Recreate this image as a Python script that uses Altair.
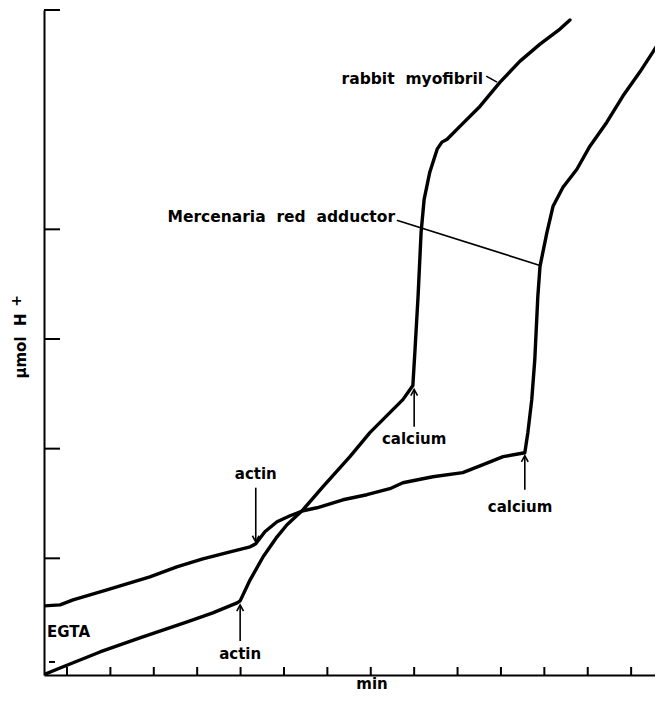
import altair as alt
import pandas as pd

# ---- data (x in min, y in tick units of µmol H+) ----
rabbit_t = [0.47, 0.84, 1.76, 2.68, 3.77, 4.36, 4.92, 4.99, 5.22, 5.52, 5.84, 6.07, 6.44,
            6.90, 7.52, 7.98, 8.44, 8.74, 8.97, 9.02, 9.09, 9.16, 9.23, 9.36, 9.53, 9.64,
            9.76, 10.06, 10.52, 10.98, 11.44, 11.90, 12.36, 12.59]
rabbit_y = [-0.06, 0.00, 0.146, 0.274, 0.42, 0.502, 0.594, 0.612, 0.804, 1.014, 1.196, 1.306,
            1.443, 1.653, 1.927, 2.146, 2.329, 2.447, 2.575, 2.904, 3.388, 3.973, 4.274, 4.521,
            4.731, 4.795, 4.822, 4.941, 5.123, 5.342, 5.534, 5.689, 5.826, 5.909]

merc_t = [0.47, 0.84, 1.14, 1.53, 1.92, 2.91, 3.53, 4.13, 4.76, 5.22, 5.35, 5.56, 5.84, 6.14,
          6.44, 6.76, 7.36, 7.91, 8.44, 8.74, 9.43, 10.12, 10.59, 11.05, 11.55, 11.62, 11.71,
          11.78, 11.85, 11.90, 12.06, 12.20, 12.43, 12.75, 13.05, 13.44, 13.81, 14.20, 14.50,
          14.73]
merc_y = [0.566, 0.575, 0.621, 0.667, 0.712, 0.831, 0.922, 0.995, 1.059, 1.105, 1.132, 1.242,
          1.333, 1.388, 1.434, 1.461, 1.534, 1.580, 1.635, 1.689, 1.744, 1.781, 1.854, 1.927,
          1.963, 2.146, 2.447, 2.813, 3.388, 3.662, 3.973, 4.210, 4.384, 4.548, 4.758, 4.977,
          5.215, 5.434, 5.616, 5.763]

x_ticks = [1, 2, 3, 4, 5, 6, 7, 8, 9, 10, 11, 12, 13, 14]
y_ticks = [1, 2, 3, 4, 6]
y_stub = [0.055]

# centred labels with arrows
lab_text = ["actin", "actin", "calcium", "calcium"]
lab_t = [5.35, 4.99, 9.00, 11.44]
lab_y = [1.772, 0.128, 2.091, 1.470]
arrow_t = [5.35, 4.99, 9.00, 11.55]
arrow_from = [1.644, 0.247, 2.20, 1.626]
arrow_tip = [1.15, 0.575, 2.54, 1.936]
arrow_dir = ["down", "up", "up", "up"]

# right-aligned series labels with pointer lines
NB = "\u00a0"
name_text = ["rabbit" + NB * 2 + "myofibril", "Mercenaria" + NB * 2 + "red" + NB * 2 + "adductor"]
name_t = [10.59, 8.56]
name_y = [5.37, 4.11]
ptr_t1 = [10.66, 8.60]
ptr_y1 = [5.397, 4.082]
ptr_t2 = [10.91, 11.90]
ptr_y2 = [5.342, 3.671]

egta_text = ["EGTA"]
egta_t = [0.54]
egta_y = [0.329]

# ---- tables ----
curves = pd.concat([
    pd.DataFrame({"t": rabbit_t, "v": rabbit_y, "s": "rabbit", "o": range(len(rabbit_t))}),
    pd.DataFrame({"t": merc_t, "v": merc_y, "s": "merc", "o": range(len(merc_t))}),
])
xt = pd.DataFrame({"t": x_ticks})
yt = pd.DataFrame({"v": y_ticks})
ys = pd.DataFrame({"v": y_stub})
labs = pd.DataFrame({"t": lab_t, "v": lab_y, "txt": lab_text})
arrows = pd.DataFrame({"t": arrow_t, "v1": arrow_from, "v2": arrow_tip, "d": arrow_dir})
names = pd.DataFrame({"t": name_t, "v": name_y, "txt": name_text})
ptrs = pd.DataFrame({"t1": ptr_t1, "v1": ptr_y1, "t2": ptr_t2, "v2": ptr_y2})
egta = pd.DataFrame({"t": egta_t, "v": egta_y, "txt": egta_text})

xs = alt.Scale(domain=[0.47, 14.55], nice=False, zero=False)
ysc = alt.Scale(domain=[-0.064, 6.0], nice=False, zero=False)
X = lambda f="t": alt.X(f"{f}:Q", scale=xs, title=None)
Y = lambda f="v": alt.Y(f"{f}:Q", scale=ysc, title=None)

FONT = "DejaVu Sans"

lines = alt.Chart(curves).mark_line(color="black", strokeWidth=3.4, strokeJoin="round",
                                    strokeCap="round", clip=True).encode(
    x=X(), y=Y(), detail="s:N", order="o:Q")

xtick = alt.Chart(xt).mark_rule(color="black", strokeWidth=2).encode(
    x=X(), y=alt.value(665), y2=alt.value(657))
ytick = alt.Chart(yt).mark_rule(color="black", strokeWidth=2).encode(
    y=Y(), x=alt.value(0), x2=alt.value(16))
ystub = alt.Chart(ys).mark_rule(color="black", strokeWidth=2).encode(
    y=Y(), x=alt.value(5), x2=alt.value(11))

shafts = alt.Chart(arrows).mark_rule(color="black", strokeWidth=1.6).encode(
    x=X(), y=Y("v1"), y2="v2:Q")
head_up = alt.Chart(arrows).transform_filter(alt.datum.d == "up").mark_point(
    shape="M-0.55,1L0,0L0.55,1", size=150, filled=False, color="black", strokeWidth=1.6,
    opacity=1).encode(x=X(), y=Y("v2"))
head_dn = alt.Chart(arrows).transform_filter(alt.datum.d == "down").mark_point(
    shape="M-0.55,-1L0,0L0.55,-1", size=150, filled=False, color="black", strokeWidth=1.6,
    opacity=1).encode(x=X(), y=Y("v2"))

lab_layer = alt.Chart(labs).mark_text(font=FONT, fontWeight="bold", fontSize=15,
                                      align="center", baseline="middle").encode(
    x=X(), y=Y(), text="txt:N")
name_layer = alt.Chart(names).mark_text(font=FONT, fontWeight="bold", fontSize=15.5,
                                        align="right", baseline="middle").encode(
    x=X(), y=Y(), text="txt:N")
ptr_layer = alt.Chart(ptrs).mark_rule(color="black", strokeWidth=1.6).encode(
    x=X("t1"), y=Y("v1"), x2="t2:Q", y2="v2:Q")
egta_layer = alt.Chart(egta).mark_text(font=FONT, fontWeight="bold", fontSize=15,
                                       align="left", baseline="middle").encode(
    x=X(), y=Y(), text="txt:N")

ytitle = alt.Chart(pd.DataFrame({"txt": ["µmol" + NB * 2 + "H"]})).mark_text(
    font=FONT, fontWeight="bold", fontSize=15, angle=270, align="center",
    baseline="middle").encode(x=alt.value(-23), y=alt.value(336), text="txt:N")
yplus = alt.Chart(pd.DataFrame({"txt": ["+"]})).mark_text(
    font=FONT, fontWeight="bold", fontSize=14, angle=270, align="center",
    baseline="middle").encode(x=alt.value(-27), y=alt.value(291), text="txt:N")
xtitle = alt.Chart(pd.DataFrame({"txt": ["min"]})).mark_text(
    font=FONT, fontWeight="bold", fontSize=15, align="center",
    baseline="bottom").encode(x=alt.value(328), y=alt.value(682), text="txt:N")

chart = alt.layer(
    lines, xtick, ytick, ystub, shafts, head_up, head_dn, lab_layer, name_layer,
    ptr_layer, egta_layer, ytitle, yplus, xtitle
).properties(
    width=611, height=665, autosize="none",
    padding={"left": 36, "top": 2, "right": 0, "bottom": 18},
).configure_axis(
    domain=True, domainColor="black", domainWidth=2, ticks=False, labels=False,
    grid=False, title=None,
).configure_view(stroke=None)

chart.save("out.html", embed_options={"renderer": "svg", "actions": False})
